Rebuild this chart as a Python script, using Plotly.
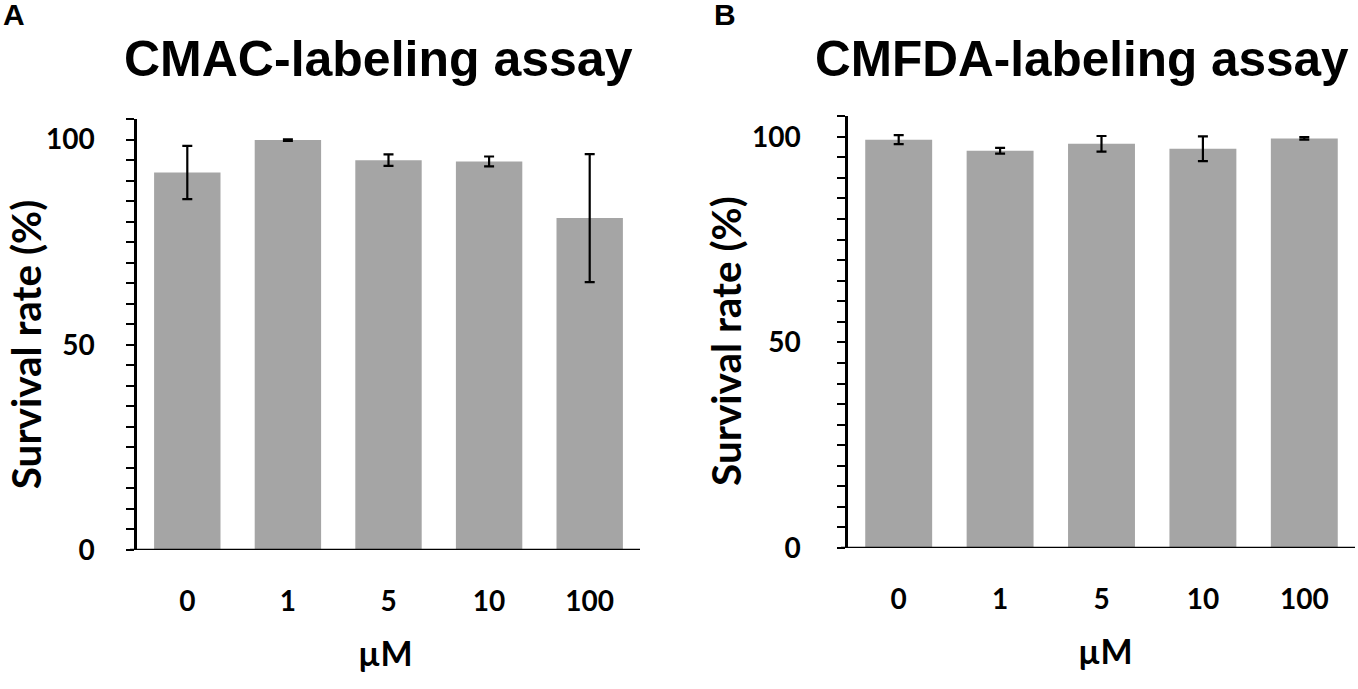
import plotly.graph_objects as go

W, H = 1358, 689

doses = ['0', '1', '5', '10', '100']
cmac_rate = [92.0, 99.9, 95.0, 94.7, 80.9]
cmac_err = [6.5, 0.2, 1.4, 1.2, 15.6]
cmfda_rate = [99.3, 96.6, 98.3, 97.1, 99.6]
cmfda_err = [1.1, 0.7, 1.9, 3.0, 0.3]

BAR = '#a5a5a5'
AX_FONT = dict(family='Lato', size=28, color='black', weight='bold')


def px(x, y):
    # pixel position -> paper coords
    return x / W, 1 - y / H


fig = go.Figure()
for rate, err, xa, ya in [(cmac_rate, cmac_err, 'x', 'y'),
                          (cmfda_rate, cmfda_err, 'x2', 'y2')]:
    fig.add_trace(go.Bar(
        x=doses, y=rate, xaxis=xa, yaxis=ya,
        marker=dict(color=BAR, line=dict(width=0)),
        error_y=dict(type='data', array=err, color='black', thickness=2.2, width=5),
        showlegend=False))

yax = dict(range=[0, 105], dtick=50, showline=True, linecolor='black', linewidth=2.5,
           ticks='outside', ticklen=8, tickwidth=2, tickcolor='black',
           minor=dict(dtick=5, ticks='outside', ticklen=8, tickwidth=2, tickcolor='black'),
           showgrid=False, zeroline=False, tickfont=AX_FONT)
xax = dict(showline=False, ticks='', showgrid=False, tickfont=AX_FONT,
           ticklabelstandoff=32, range=[-0.5, 4.5])

fig.update_layout(
    width=W, height=H, margin=dict(l=0, r=0, t=0, b=0),
    plot_bgcolor='white', paper_bgcolor='white', bargap=0.34,
    xaxis=dict(domain=[137 / W, 640 / W], anchor='y', **xax),
    yaxis=dict(domain=[1 - 563 / H, 1 - 122 / H], anchor='x', ticklabelstandoff=26, **yax),
    xaxis2=dict(domain=[848 / W, 1355 / W], anchor='y2', **xax),
    yaxis2=dict(domain=[1 - 561 / H, 1 - 119 / H], anchor='x2', ticklabelstandoff=31, **yax),
)

# x axis lines, running slightly past the y axis like the original
for xr, yr in [('x domain', 'y'), ('x2 domain', 'y2')]:
    fig.add_shape(type='line', xref=xr, yref=yr, x0=-0.014, x1=1, y0=0, y1=0,
                  line=dict(color='black', width=2.5))

annots = [
    ('A', 14, 15, 30, 'Liberation Sans', 0),
    ('B', 725, 15, 30, 'Liberation Sans', 0),
    ('CMAC-labeling assay', 378, 60, 50, 'Liberation Sans', 0),
    ('CMFDA-labeling assay', 1082, 60, 49.5, 'Liberation Sans', 0),
    ('Survival rate (%)', 25.5, 353, 40.5, 'Lato', -90),
    ('Survival rate (%)', 726, 349, 40.5, 'Lato', -90),
    ('µM', 385, 668, 34, 'Lato', 0),
    ('µM', 1105, 666, 34, 'Lato', 0),
]
for text, x, y, size, fam, ang in annots:
    ax, ay = px(x, y)
    fig.add_annotation(text=text, x=ax, y=ay, xref='paper', yref='paper',
                       showarrow=False, textangle=ang,
                       xanchor='center', yanchor='middle',
                       font=dict(family=fam, size=size, color='black', weight='bold'))

# drop the default 8px body margin so the figure sits at the window corner
fig.write_html('out.html', config={'displayModeBar': False},
               post_script="document.body.style.margin='0';")
